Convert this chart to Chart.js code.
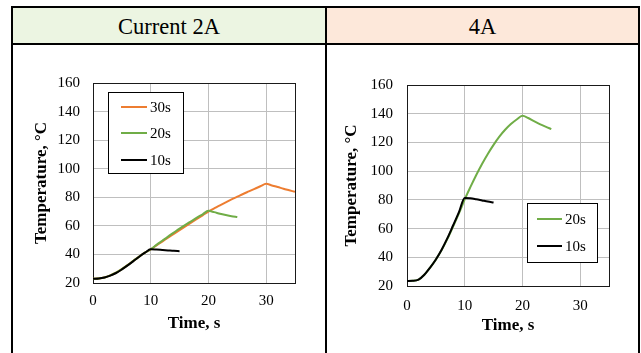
<!DOCTYPE html>
<html>
<head>
<meta charset="utf-8">
<script src="https://cdn.jsdelivr.net/npm/chart.js@4"></script>
<style>
  body { margin: 0; background: #fff; width: 641px; height: 353px; overflow: hidden; position: relative;
         font-family: 'Liberation Serif', 'Times New Roman', serif; }
  .rule { position: absolute; background: #000; }
  .hdr { position: absolute; top: 8px; height: 35px; display: flex; align-items: center; justify-content: center;
         font-size: 22.5px; color: #000; box-sizing: border-box; padding-top: 3px; }
  .plot { position: absolute; top: 45px; }
</style>
</head>
<body>
<div class="hdr" style="left:13px;width:312px;background:#ecf5e2">Current 2A</div>
<div class="hdr" style="left:327px;width:311px;background:#fde8da">4A</div>
<div class="rule" style="left:11px;top:6px;width:629px;height:2px"></div>
<div class="rule" style="left:11px;top:43px;width:629px;height:2px"></div>
<div class="rule" style="left:11px;top:6px;width:2px;height:347px"></div>
<div class="rule" style="left:325px;top:6px;width:2px;height:347px"></div>
<div class="rule" style="left:638px;top:6px;width:2px;height:347px"></div>
<canvas id="c2" class="plot" width="312" height="308" style="left:13px"></canvas>
<canvas id="c4" class="plot" width="311" height="308" style="left:327px"></canvas>
<script>
// Heating curves (time in s, temperature in °C)

const xTicks = [0, 10, 20, 30];
const yTicks = [20, 40, 60, 80, 100, 120, 140, 160];

// 2A
const t2_10s = [0, 1, 2, 3, 4, 5, 6, 7, 8, 9, 10, 11, 12, 13, 14, 15];
const v2_10s = [23, 23.2, 23.9, 25.2, 27, 29.5, 32.3, 35.3, 38.4, 41.2, 43.6, 43.4, 43.1, 42.8, 42.5, 42.3];

const t2_20s = [0, 1, 2, 3, 4, 5, 6, 7, 8, 9, 10, 11, 12, 13, 14, 15, 16, 17, 18, 19, 20, 21, 22, 23, 24, 25];
const v2_20s = [23, 23.2, 23.9, 25.3, 27.2, 29.7, 32.5, 35.5, 38.5, 41.2, 43.6, 46.7, 49.6, 52.5, 55.3, 58.1, 60.7, 63.2, 65.7, 68.1, 70.5, 69.6, 68.5, 67.6, 66.8, 66.2];

const t2_30s = [0, 1, 2, 3, 4, 5, 6, 7, 8, 9, 10, 11, 12, 13, 14, 15, 16, 17, 18, 19, 20, 21, 22, 23, 24, 25, 26, 27, 28, 29, 30, 31, 32, 33, 34, 35];
const v2_30s = [23, 23.2, 23.9, 25.3, 27.2, 29.7, 32.5, 35.5, 38.5, 41.2, 43.6, 46.3, 49, 51.7, 54.4, 57, 59.6, 62.2, 64.8, 67.4, 70, 72.2, 74.4, 76.5, 78.5, 80.4, 82.3, 84.1, 85.9, 87.7, 89.4, 88.3, 87.2, 86, 84.9, 83.8];

// 4A
const t4_10s = [0, 1, 2, 3, 4, 5, 6, 7, 8, 9, 10, 11, 12, 13, 14, 15];
const v4_10s = [23.5, 23.6, 24.4, 27.8, 32.8, 38.5, 45.3, 53.3, 62.3, 71.5, 81.3, 81.1, 80.4, 79.6, 78.8, 78.1];

const t4_20s = [0, 1, 2, 3, 4, 5, 6, 7, 8, 9, 10, 11, 12, 13, 14, 15, 16, 17, 18, 19, 20, 21, 22, 23, 24, 25];
const v4_20s = [23.5, 23.6, 24.4, 27.8, 32.8, 38.4, 45, 52.8, 61.6, 70.6, 80.3, 89, 97.3, 105, 112, 118.3, 124, 128.8, 132.8, 136, 138.5, 137, 134.8, 132.8, 131, 129.3];

const ORANGE = '#ed7d31';
const GREEN = '#70ad47';
const BLACK = '#000000';
const GRID = '#bfbfbf';
const FAMILY = "'Liberation Serif', 'Times New Roman', serif";

Chart.defaults.font.family = FAMILY;
Chart.defaults.color = '#000';

function pairs(ts, vs) {
  return ts.map((t, i) => ({ x: t, y: vs[i] }));
}

function series(label, ts, vs, color) {
  return {
    label: label,
    data: pairs(ts, vs),
    borderColor: color,
    backgroundColor: color,
    borderWidth: 2,
    pointRadius: 0,
    cubicInterpolationMode: 'monotone',
    fill: false
  };
}

// Plot frame (all four sides)
const frame = {
  id: 'frame',
  beforeDatasetsDraw(chart) {
    const { ctx, chartArea: a } = chart;
    const l = Math.round(a.left), t = Math.round(a.top), r = Math.round(a.right), b = Math.round(a.bottom);
    ctx.save();
    ctx.strokeStyle = '#1a1a1a';
    ctx.lineWidth = 1;
    ctx.strokeRect(l + 0.5, t + 0.5, r - l, b - t);
    ctx.restore();
  }
};

// Boxed legend inside the plot
const boxLegend = {
  id: 'boxLegend',
  afterDatasetsDraw(chart, args, opts) {
    const { ctx, chartArea } = chart;
    const x0 = Math.round(chartArea.left + opts.dx);
    const y0 = Math.round(chartArea.top + opts.dy);
    ctx.save();
    ctx.fillStyle = '#fff';
    ctx.fillRect(x0, y0, opts.w, opts.h);
    ctx.strokeStyle = '#000';
    ctx.lineWidth = 1;
    ctx.strokeRect(x0 + 0.5, y0 + 0.5, opts.w, opts.h);
    ctx.font = '15px ' + FAMILY;
    ctx.textBaseline = 'middle';
    ctx.textAlign = 'left';
    opts.order.forEach((idx, k) => {
      const ds = chart.data.datasets[idx];
      const y = y0 + opts.rows[k];
      ctx.strokeStyle = ds.borderColor;
      ctx.lineWidth = 2;
      ctx.beginPath();
      ctx.moveTo(x0 + opts.lineX, y);
      ctx.lineTo(x0 + opts.lineX + opts.lineW, y);
      ctx.stroke();
      ctx.fillStyle = '#000';
      ctx.fillText(ds.label, x0 + opts.textX, y + 1);
    });
    ctx.restore();
  }
};

function makeOptions(p) {
  return {
    responsive: false,
    animation: false,
    layout: { padding: { left: 0, top: p.top, right: p.right, bottom: 0 } },
    plugins: {
      legend: { display: false },
      tooltip: { enabled: false },
      boxLegend: p.legend
    },
    scales: {
      x: {
        type: 'linear',
        min: 0,
        max: 35,
        afterBuildTicks: s => { s.ticks = xTicks.map(v => ({ value: v })); },
        afterFit: s => { s.height = p.xH; },
        grid: { color: GRID, lineWidth: 1, drawTicks: false },
        border: { display: false },
        ticks: { padding: p.xPad, maxRotation: 0, autoSkip: false, font: { size: 15 }, color: '#000' },
        title: {
          display: true,
          text: 'Time, s',
          color: '#000',
          font: { size: 17, weight: 'bold', lineHeight: 1.2 },
          padding: { top: 0, bottom: p.xTitlePad }
        }
      },
      y: {
        type: 'linear',
        min: 20,
        max: 160,
        afterBuildTicks: s => { s.ticks = yTicks.map(v => ({ value: v })); },
        afterFit: s => { s.width = p.yW; },
        grid: { color: GRID, lineWidth: 1, drawTicks: false },
        border: { display: false },
        ticks: { padding: p.yPad, autoSkip: false, font: { size: 15 }, color: '#000' },
        title: {
          display: true,
          text: 'Temperature, °C',
          color: '#000',
          font: { size: 17, weight: 'bold', lineHeight: 1.2 },
          padding: { top: p.yTitlePad, bottom: 0 }
        }
      }
    }
  };
}

new Chart(document.getElementById('c2'), {
  type: 'line',
  data: {
    datasets: [
      series('10s', t2_10s, v2_10s, BLACK),
      series('20s', t2_20s, v2_20s, GREEN),
      series('30s', t2_30s, v2_30s, ORANGE)
    ]
  },
  options: makeOptions({
    top: 38, right: 30, xH: 70, yW: 80,
    xPad: 9, yPad: 13, xTitlePad: 19, yTitlePad: 18,
    legend: { dx: 15, dy: 9, w: 75, h: 81, rows: [15, 41, 68], lineX: 13, lineW: 26, textX: 42, order: [2, 1, 0] }
  }),
  plugins: [frame, boxLegend]
});

new Chart(document.getElementById('c4'), {
  type: 'line',
  data: {
    datasets: [
      series('10s', t4_10s, v4_10s, BLACK),
      series('20s', t4_20s, v4_20s, GREEN)
    ]
  },
  options: makeOptions({
    top: 40, right: 29, xH: 67, yW: 80,
    xPad: 11, yPad: 14, xTitlePad: 17, yTitlePad: 14,
    legend: { dx: 120, dy: 118, w: 70, h: 59, rows: [16, 43], lineX: 10, lineW: 25, textX: 38, order: [1, 0] }
  }),
  plugins: [frame, boxLegend]
});
</script>
</body>
</html>
